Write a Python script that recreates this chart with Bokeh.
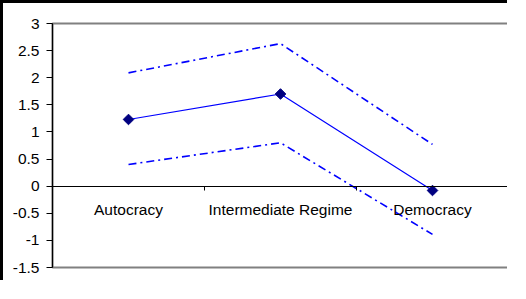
from bokeh.plotting import figure
from bokeh.models import FixedTicker, Range1d, LinearAxis, ColumnDataSource
from bokeh.embed import file_html
from bokeh.resources import INLINE

categories = ["Autocracy", "Intermediate Regime", "Democracy"]
mean_vals = [1.23, 1.70, -0.08]
upper_vals = [2.09, 2.63, 0.77]
lower_vals = [0.40, 0.80, -0.89]
y_ticks = [-1.5, -1, -0.5, 0, 0.5, 1, 1.5, 2, 2.5, 3]
y_tick_labels = ["-1.5", "-1", "-0.5", "0", "0.5", "1", "1.5", "2", "2.5", "3"]

x_pos = [i + 0.5 for i in range(len(categories))]
src = ColumnDataSource(dict(x=x_pos, m=mean_vals, u=upper_vals, l=lower_vals))

FONT = "Liberation Sans"

p = figure(width=507, height=280, output_backend="svg", toolbar_location=None,
           x_range=Range1d(0, len(categories)), y_range=Range1d(-1.5, 3),
           x_axis_location=None, y_axis_location=None,
           min_border_left=49, min_border_right=2, min_border_top=20, min_border_bottom=16)
p.styles = {"border-top": "3px solid black", "border-left": "3px solid black", "background-color": "white"}
p.grid.visible = False
p.background_fill_alpha = 0
p.border_fill_alpha = 0
p.outline_line_color = "#808080"
p.outline_line_width = 2

# y axis
ya = LinearAxis(ticker=FixedTicker(ticks=y_ticks, minor_ticks=[]))
ya.major_label_overrides = {t: s for t, s in zip(y_ticks, y_tick_labels)}
ya.axis_line_color = "black"
ya.axis_line_width = 1.2
ya.major_tick_out = 6
ya.major_tick_in = 0
ya.minor_tick_line_color = None
ya.major_label_standoff = 7
ya.major_label_text_font = FONT
ya.major_label_text_font_size = "15.5px"
ya.major_label_text_color = "black"
p.add_layout(ya, "left")

# category axis drawn along y = 0
xa = LinearAxis(ticker=FixedTicker(ticks=x_pos, minor_ticks=[float(i) for i in range(1, len(categories) + 1)]),
                fixed_location=0)
xa.major_label_overrides = {x: c for x, c in zip(x_pos, categories)}
xa.axis_line_color = "black"
xa.axis_line_width = 1.2
xa.major_tick_line_color = None
xa.minor_tick_line_color = "black"
xa.minor_tick_out = 4
xa.minor_tick_in = 0
xa.major_label_standoff = 9
xa.major_label_text_font = FONT
xa.major_label_text_font_size = "15.5px"
xa.major_label_text_color = "black"
p.add_layout(xa, "below")

p.line("x", "u", source=src, line_color="#0000FF", line_width=1.6, line_dash="8 4 2 4")
p.line("x", "l", source=src, line_color="#0000FF", line_width=1.6, line_dash="8 4 2 4")
p.line("x", "m", source=src, line_color="#0000FF", line_width=1.2)
p.scatter("x", "m", source=src, marker="square", angle=0.785398, size=7.5,
          fill_color="#000080", line_color="#000080")

open("out.html", "w").write(file_html(p, INLINE))
